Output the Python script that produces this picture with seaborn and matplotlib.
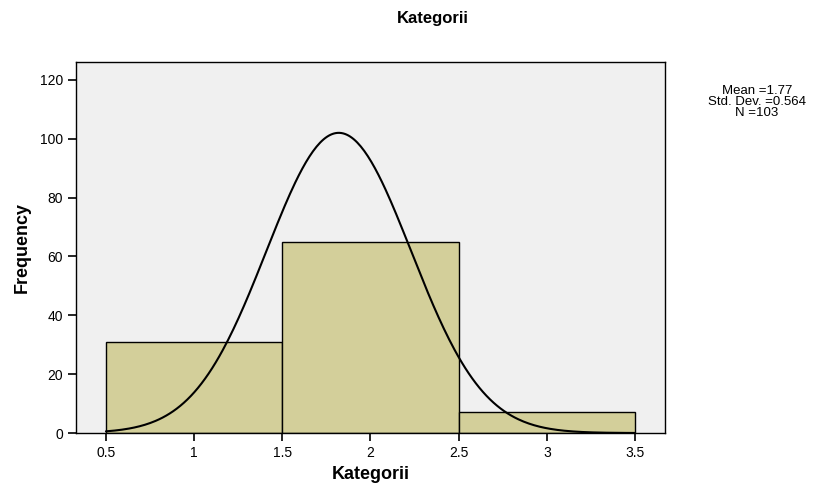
import numpy as np
import pandas as pd
import matplotlib
matplotlib.use("Agg")
import matplotlib.pyplot as plt
import seaborn as sns

# histogram bins (category centres) and counts
categories = [1, 2, 3]
counts = [31, 65, 7]
bin_edges = [0.5, 1.5, 2.5, 3.5]

# normal curve as drawn on the chart
curve_mean = 1.82
curve_sd = 0.41
curve_peak = 102

stats_lines = ["Mean =1.77", "Std. Dev. =0.564", "N =103"]

sns.set_style("ticks")
plt.rcParams['font.family'] = ['Liberation Sans', 'DejaVu Sans']
plt.rcParams['text.color'] = 'black'
plt.rcParams['axes.labelcolor'] = 'black'
plt.rcParams['xtick.color'] = 'black'
plt.rcParams['ytick.color'] = 'black'

fig = plt.figure(figsize=(8.32, 4.86), dpi=100)
ax = fig.add_axes([0.0913, 0.109, 0.708, 0.763])
ax.set_facecolor("#f0f0f0")

df = pd.DataFrame({"Kategorii": categories, "count": counts})
sns.histplot(data=df, x="Kategorii", weights="count", bins=bin_edges,
             color="#d3cf9a", alpha=1, edgecolor="black", linewidth=1, ax=ax)

xs = np.linspace(0.5, 3.5, 300)
ys = curve_peak * np.exp(-0.5 * ((xs - curve_mean) / curve_sd) ** 2)
sns.lineplot(x=xs, y=ys, color="black", linewidth=1.5, ax=ax)

ax.set_xlim(0.33, 3.67)
ax.set_ylim(0, 126)
ax.set_xticks([0.5, 1, 1.5, 2, 2.5, 3, 3.5])
ax.set_xticklabels(["0.5", "1", "1.5", "2", "2.5", "3", "3.5"])
ax.set_yticks(range(0, 121, 20))
ax.tick_params(axis="both", direction="out", length=6, width=1.2, labelsize=10, color="black")
for s in ax.spines.values():
    s.set_visible(True)
    s.set_color("black")
    s.set_linewidth(1)

ax.set_xlabel("Kategorii", fontsize=13, fontweight="bold", labelpad=4)
ax.set_ylabel("Frequency", fontsize=13, fontweight="bold", labelpad=6)
fig.text(0.52, 0.962, "Kategorii", ha="center", va="center", fontsize=12, fontweight="bold")

fig.text(0.91, 0.79, "\n".join(stats_lines), ha="center", va="center",
         fontsize=9.5, linespacing=0.9)

fig.savefig("out.png", dpi=100)
